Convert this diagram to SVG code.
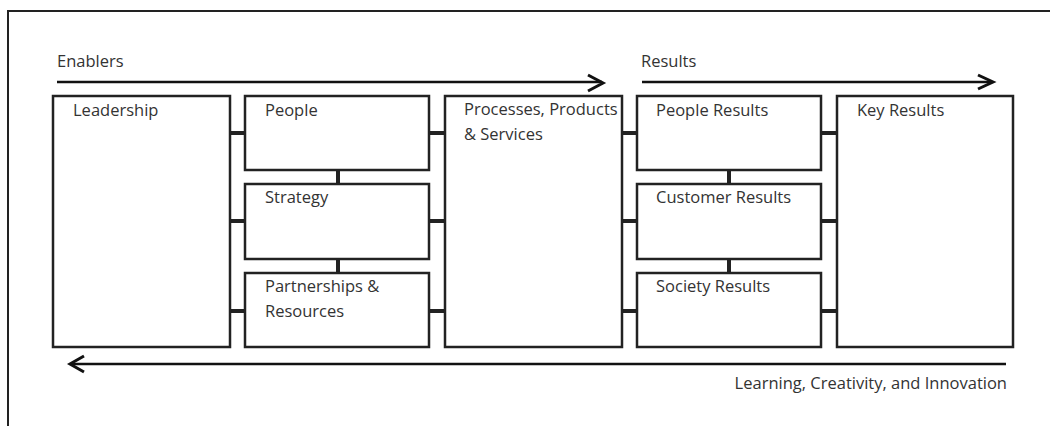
<svg xmlns="http://www.w3.org/2000/svg" width="1050" height="426" viewBox="0 0 1050 426">
  <defs>
    <style>
      .frame { fill: none; stroke: #222; stroke-width: 2; }
      .box { fill: #fff; stroke: #222; stroke-width: 2.5; }
      .link { fill: none; stroke: #222; stroke-width: 4; }
      .flow { fill: none; stroke: #111; stroke-width: 2.5; }
      .head { fill: none; stroke: #111; stroke-width: 3; stroke-linejoin: miter; }
      .lbl { font-family: "Open Sans", "Liberation Sans", sans-serif; font-size: 16.5px; fill: #333; }
    </style>
  </defs>

  <rect width="1050" height="426" fill="#fff"/>

  <!-- page frame -->
  <path class="frame" d="M8,426 V11 H1050"/>

  <!-- flow arrows -->
  <g id="flows">
    <path class="flow" d="M57,82 H602"/>
    <path class="head" d="M588,75 L603,83 L588,91"/>
    <text class="lbl" x="57" y="67">Enablers</text>

    <path class="flow" d="M642,82 H992"/>
    <path class="head" d="M978,75 L993,82 L978,89"/>
    <text class="lbl" x="641" y="67">Results</text>

    <path class="flow" d="M71,364 H1006"/>
    <path class="head" d="M84,356 L70,364 L84,372"/>
    <text class="lbl" x="1007" y="389" text-anchor="end">Learning, Creativity, and Innovation</text>
  </g>

  <!-- connectors between criteria -->
  <g id="connectors">
    <path class="link" d="M230,133 H245 M230,221 H245 M230,311 H245"/>
    <path class="link" d="M429,133 H445 M429,221 H445 M429,311 H445"/>
    <path class="link" d="M338,170 V184 M338,259 V273"/>
    <path class="link" d="M622,133 H637 M622,221 H637 M622,311 H637"/>
    <path class="link" d="M821,133 H837 M821,221 H837 M821,311 H837"/>
    <path class="link" d="M729,170 V184 M729,259 V273"/>
  </g>

  <g id="leadership">
    <rect class="box" x="53" y="96" width="177" height="251"/>
    <text class="lbl" x="73" y="116">Leadership</text>
  </g>

  <g id="people">
    <rect class="box" x="245" y="96" width="184" height="74"/>
    <text class="lbl" x="265" y="116">People</text>
  </g>

  <g id="strategy">
    <rect class="box" x="245" y="184" width="184" height="75"/>
    <text class="lbl" x="265" y="203">Strategy</text>
  </g>

  <g id="partnerships">
    <rect class="box" x="245" y="273" width="184" height="74"/>
    <text class="lbl" x="265" y="292">Partnerships &amp;</text>
    <text class="lbl" x="265" y="317">Resources</text>
  </g>

  <g id="processes">
    <rect class="box" x="445" y="96" width="177" height="251"/>
    <text class="lbl" x="464" y="115">Processes, Products</text>
    <text class="lbl" x="464" y="140">&amp; Services</text>
  </g>

  <g id="people-results">
    <rect class="box" x="637" y="96" width="184" height="74"/>
    <text class="lbl" x="656" y="116">People Results</text>
  </g>

  <g id="customer-results">
    <rect class="box" x="637" y="184" width="184" height="75"/>
    <text class="lbl" x="656" y="203">Customer Results</text>
  </g>

  <g id="society-results">
    <rect class="box" x="637" y="273" width="184" height="74"/>
    <text class="lbl" x="656" y="292">Society Results</text>
  </g>

  <g id="key-results">
    <rect class="box" x="837" y="96" width="176" height="251"/>
    <text class="lbl" x="857" y="116">Key Results</text>
  </g>
</svg>
